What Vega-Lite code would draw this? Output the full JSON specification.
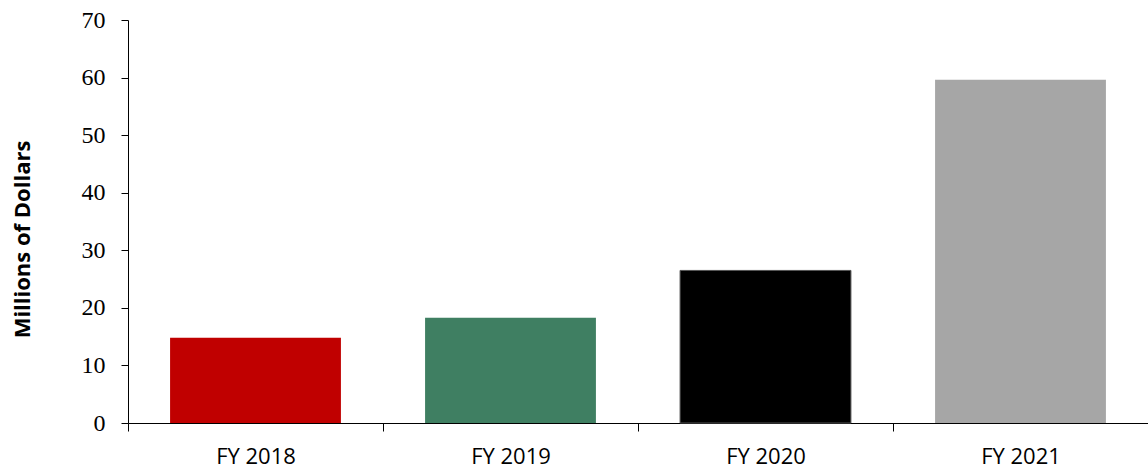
{
  "$schema": "https://vega.github.io/schema/vega-lite/v6.json",
  "width": 1020,
  "height": 403,
  "autosize": "none",
  "padding": {"left": 128, "top": 20, "right": 0, "bottom": 47},
  "background": "white",
  "config": {"view": {"stroke": null}},
  "data": {"values": [
    {"year": "FY 2018", "value": 14.8, "color": "#C00000"},
    {"year": "FY 2019", "value": 18.3, "color": "#3F7F62"},
    {"year": "FY 2020", "value": 26.5, "color": "#000000"},
    {"year": "FY 2021", "value": 59.6, "color": "#A6A6A6"}
  ]},
  "mark": {"type": "bar", "width": {"band": 0.67}},
  "encoding": {
    "x": {
      "field": "year", "type": "nominal", "sort": null,
      "scale": {"paddingInner": 0, "paddingOuter": 0},
      "axis": {
        "title": null, "labelAngle": 0, "tickBand": "extent",
        "domainColor": "#000000", "tickColor": "#000000", "tickSize": 8,
        "labelFont": "Open Sans", "labelFontSize": 22, "labelColor": "#000000",
        "labelPadding": 15
      }
    },
    "y": {
      "field": "value", "type": "quantitative",
      "scale": {"domain": [0, 70], "nice": false},
      "axis": {
        "title": "Millions of Dollars", "values": [0,10,20,30,40,50,60,70],
        "grid": false, "domainColor": "#000000", "tickColor": "#000000", "tickSize": 7,
        "labelFont": "Liberation Serif", "labelFontSize": 24, "labelColor": "#000000",
        "labelPadding": 16,
        "titleFont": "Open Sans", "titleFontSize": 22, "titleFontWeight": "bold", "titleColor": "#000000",
        "titleAngle": 270, "titleX": -106, "titleY": 219, "titleAlign": "center", "titleBaseline": "middle"
      }
    },
    "color": {"field": "color", "type": "nominal", "scale": null, "legend": null},
    "stroke": {"condition": {"test": "datum.year === 'FY 2020'", "value": "#555555"}, "value": null}
  }
}
